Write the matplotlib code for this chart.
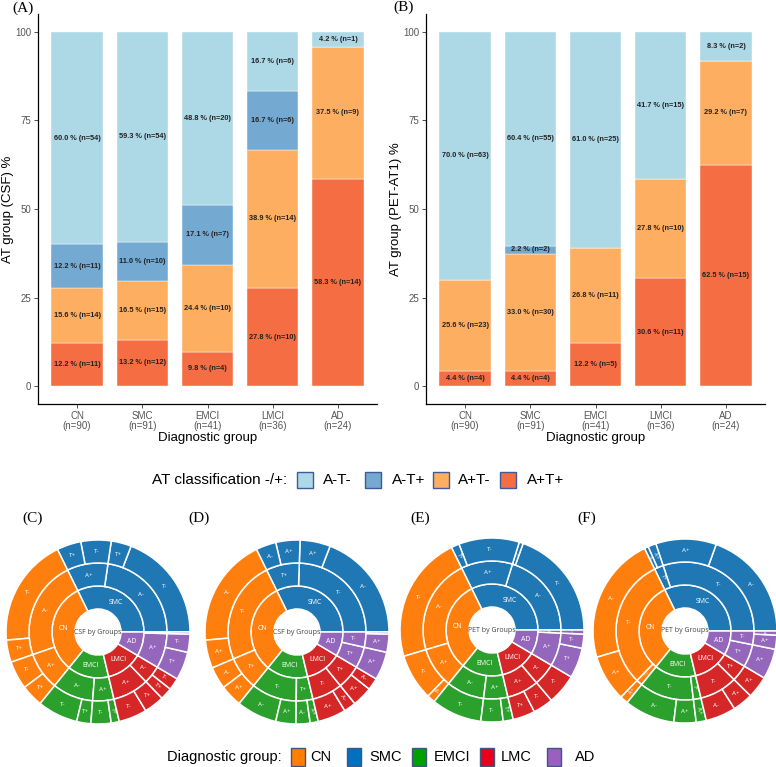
import matplotlib
matplotlib.use("Agg")
import matplotlib.pyplot as plt
from matplotlib.patches import Wedge, Rectangle
import numpy as np

W, H = 776, 767

groups = ["CN", "SMC", "EMCI", "LMCI", "AD"]

# 件数 (CSF)
csf_AmTm = [54, 54, 20, 6, 1]
csf_AmTp = [11, 10, 7, 6, 0]
csf_ApTm = [14, 15, 10, 14, 9]
csf_ApTp = [11, 12, 4, 10, 14]

# 件数 (PET-AT1)
pet_AmTm = [63, 55, 25, 15, 2]
pet_AmTp = [0, 2, 0, 0, 0]
pet_ApTm = [23, 30, 11, 10, 7]
pet_ApTp = [4, 4, 5, 11, 15]

at_classes = ["A-T-", "A-T+", "A+T-", "A+T+"]
at_colors = ["#add8e6", "#74aad2", "#fdae61", "#f46d43"]
group_colors = ["#ff7f0e", "#1f77b4", "#2ca02c", "#d62728", "#9467bd"]
legend_groups = ["CN", "SMC", "EMCI", "LMC", "AD"]
legend_colors = ["#ff7f00", "#0070c0", "#00a000", "#e8001c", "#9b5fc0"]
yticks = [0, 25, 50, 75, 100]

SANS = ["Liberation Sans", "DejaVu Sans"]
SERIF = ["Liberation Serif", "DejaVu Serif"]
plt.rcParams["font.family"] = SANS

R_PX = 92


def fx(x):
    return x / W


def fy(y):
    return 1 - y / H


def draw_bars(ax, counts, ylabel):
    counts = np.array(counts, dtype=float)
    totals = counts.sum(axis=0)
    pct = counts / totals * 100
    x = np.arange(1, len(groups) + 1)
    bottom = np.zeros(len(groups))
    for k in [3, 2, 1, 0]:
        ax.bar(x, pct[k], bottom=bottom, width=0.79, color=at_colors[k],
               edgecolor="white", linewidth=0.3)
        for i in range(len(groups)):
            if counts[k, i] > 0:
                ax.text(x[i], bottom[i] + pct[k, i] / 2,
                        f"{pct[k, i]:.1f} % (n={int(counts[k, i])})",
                        ha="center", va="center", fontsize=5.3,
                        fontweight="bold", color="#222222")
        bottom += pct[k]

    ax.set_xlim(0.4, 5.6)
    ax.set_ylim(-5, 105)
    ax.set_yticks(yticks)
    ax.set_yticklabels([str(t) for t in yticks])
    ax.set_xticks(x)
    ax.set_xticklabels([f"{g}\n(n={int(t)})" for g, t in zip(groups, totals)],
                       linespacing=1.0)
    for s in ["top", "right"]:
        ax.spines[s].set_visible(False)
    for s in ["left", "bottom"]:
        ax.spines[s].set_linewidth(0.9)
        ax.spines[s].set_color("black")
    ax.tick_params(length=3, width=0.6, color="#333333", labelsize=7,
                   labelcolor="#555555", pad=2)
    ax.set_ylabel(ylabel, fontsize=9.5, labelpad=1)
    ax.set_xlabel("Diagnostic group", fontsize=9.5, labelpad=1)


def segment(ax, r_out, t1, t2, color, label, fs):
    ax.add_patch(Wedge((0, 0), r_out, t1, t2, width=0.25, facecolor=color,
                       edgecolor="white", linewidth=1.1))
    mid = (t1 + t2) / 2
    rm = r_out - 0.125
    arc = np.deg2rad(t2 - t1) * rm * R_PX
    if arc >= 11:
        rot = 0
        size = fs
    else:
        rot = mid
        if 90 < rot < 270:
            rot -= 180
        size = min(fs, max(2.5, arc * 0.55))
    ax.text(rm * np.cos(np.deg2rad(mid)), rm * np.sin(np.deg2rad(mid)), label,
            ha="center", va="center", fontsize=size, color="white",
            rotation=rot, family=["Open Sans", "DejaVu Sans"])


def sunburst(ax, am_tm, am_tp, ap_tm, ap_tp, inner, center_text):
    totals = [am_tm[i] + am_tp[i] + ap_tm[i] + ap_tp[i] for i in range(len(groups))]
    deg = 360 / sum(totals)
    order = sorted(range(len(groups)), key=lambda i: -totals[i])
    start = 0.0
    for g in order:
        col = group_colors[g]
        if inner == "A":
            kids = [("A-", [("T+", am_tp[g]), ("T-", am_tm[g])]),
                    ("A+", [("T+", ap_tp[g]), ("T-", ap_tm[g])])]
        else:
            kids = [("T+", [("A-", am_tp[g]), ("A+", ap_tp[g])]),
                    ("T-", [("A-", am_tm[g]), ("A+", ap_tm[g])])]
        kids = sorted(kids, key=lambda k: -sum(v for _, v in k[1]))
        end = start + totals[g] * deg
        segment(ax, 0.5, start, end, col, groups[g], 5)
        a = start
        for name, sub in kids:
            n = sum(v for _, v in sub)
            if n == 0:
                continue
            b = a + n * deg
            segment(ax, 0.75, a, b, col, name, 4.5)
            c = a
            for sname, v in sorted(sub, key=lambda s: -s[1]):
                if v == 0:
                    continue
                d = c + v * deg
                segment(ax, 1.0, c, d, col, sname, 4.5)
                c = d
            a = b
        start = end
    ax.text(0, 0, center_text, ha="center", va="center", fontsize=5,
            color="#444444", family=["Open Sans", "DejaVu Sans"])


fig = plt.figure(figsize=(W / 100, H / 100), dpi=100)

# ── 棒グラフ (A)(B) ──
ax_a = fig.add_axes([fx(38), fy(404), (377 - 38) / W, (404 - 14) / H])
draw_bars(ax_a, [csf_AmTm, csf_AmTp, csf_ApTm, csf_ApTp], "AT group (CSF) %")
ax_b = fig.add_axes([fx(426), fy(404), (765 - 426) / W, (404 - 14) / H])
draw_bars(ax_b, [pet_AmTm, pet_AmTp, pet_ApTm, pet_ApTp], "AT group (PET-AT1) %")

fig.text(fx(12), fy(8), "(A)", fontsize=11, family=SERIF, va="center")
fig.text(fx(393), fy(7), "(B)", fontsize=11, family=SERIF, va="center")

# ── AT 凡例 ──
fig.text(fx(152), fy(480), "AT classification -/+:", fontsize=11, va="center")
for xb, xt, lab, col in zip([297, 365, 433, 500], [323, 392, 458, 527],
                            at_classes, at_colors):
    fig.patches.append(Rectangle((fx(xb), fy(488)), 16 / W, 16 / H,
                                 transform=fig.transFigure, facecolor=col,
                                 edgecolor="#3d5a99", linewidth=1.0))
    fig.text(fx(xt), fy(480), lab, fontsize=11, va="center")

# ── サンバースト (C)-(F) ──
sb = [
    ((98, 632), "(C)", 22, (csf_AmTm, csf_AmTp, csf_ApTm, csf_ApTp), "A", "CSF by Groups"),
    ((297, 632), "(D)", 188, (csf_AmTm, csf_AmTp, csf_ApTm, csf_ApTp), "T", "CSF by Groups"),
    ((492, 630), "(E)", 410, (pet_AmTm, pet_AmTp, pet_ApTm, pet_ApTp), "A", "PET by Groups"),
    ((685, 631), "(F)", 577, (pet_AmTm, pet_AmTp, pet_ApTm, pet_ApTp), "T", "PET by Groups"),
]
lim = 1.02
for (cx, cy), tag, tx, data, inner, ctext in sb:
    ax = fig.add_axes([fx(cx - R_PX * lim), fy(cy + R_PX * lim),
                       2 * R_PX * lim / W, 2 * R_PX * lim / H])
    ax.set_xlim(-lim, lim)
    ax.set_ylim(-lim, lim)
    ax.set_aspect("equal")
    ax.axis("off")
    sunburst(ax, *data, inner, ctext)
    fig.text(fx(tx), fy(518), tag, fontsize=11, family=SERIF, va="center")

# ── 診断群 凡例 ──
fig.text(fx(167), fy(757), "Diagnostic group:", fontsize=10.5, va="center")
for xb, xt, lab, col in zip([291, 347, 412, 480, 547], [310, 369, 434, 501, 575],
                            legend_groups, legend_colors):
    fig.patches.append(Rectangle((fx(xb), fy(766)), 14 / W, 18 / H,
                                 transform=fig.transFigure, facecolor=col,
                                 edgecolor="#41557f", linewidth=1.0))
    fig.text(fx(xt), fy(757), lab, fontsize=10.5, va="center")

fig.savefig("out.png", dpi=100)
